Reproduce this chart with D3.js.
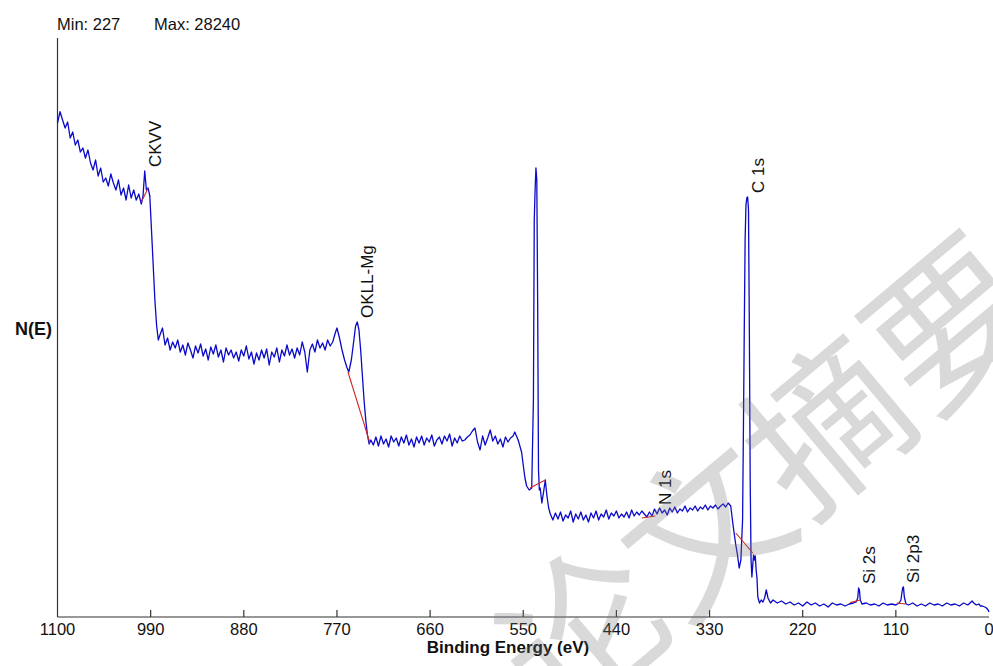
<!DOCTYPE html>
<meta charset="utf-8">
<style>
  body { margin: 0; background: #fff; }
  text { font-family: "Liberation Sans", Arial, sans-serif; fill: #111; }
</style>
<svg width="993" height="666"></svg>
<script src="https://d3js.org/d3.v7.min.js"></script>
<script>

// survey spectrum: [binding energy (eV), counts]
var spectrum = [
  [1100,27608],[1097,28240],[1094,27776],[1091,27328],[1088,27664],[1085,26768],[1082,27104],[1079,26376],
  [1076,26656],[1073,25984],[1070,26208],[1067,25648],[1064,26096],[1061,25368],[1058,24976],[1055,25536],
  [1052,24640],[1049,25088],[1046,24304],[1043,24528],[1040,24080],[1037,24752],[1034,24248],[1031,23856],
  [1028,24416],[1025,23576],[1022,23968],[1019,23296],[1016,24136],[1013,23408],[1010,23856],[1007,23296],
  [1004,23632],[1001,23072],[999,23520],[997,24920],[995,23856],[993,23968],[991,23520],[989,21616],
  [987,19656],[985,17696],[983,16296],[981,15456],
  [979,15736],[976,16128],[973,15176],[970,15568],[967,14896],[964,15344],[961,15008],[958,15456],
  [955,14784],[952,15176],[949,14616],[946,15288],[943,14896],[940,14448],[937,15120],[934,14728],
  [931,15232],[928,14560],[925,14952],[922,14336],[919,15064],[916,14672],[913,15176],[910,14504],
  [907,14896],[904,14224],[901,15008],[898,14616],[895,14896],[892,14448],[889,14784],[886,14280],
  [883,14896],[880,14560],[877,15120],[874,14392],[871,14784],[868,14112],[865,14728],[862,14336],
  [859,14896],[856,14448],[853,14952],[850,14056],[847,14784],[844,14504],[841,15008],[838,14224],
  [835,14896],[832,14560],[829,15176],[826,14616],[823,14952],[820,14448],[817,15008],[814,14616],
  [811,15344],[808,14784],[805,13664],[802,14896],[799,15232],[796,14784],[793,15456],[790,15008],
  [787,15288],[784,14896],[781,15456],[778,15120],[775,15344],[772,15848],[770,16128],[767,15568],
  [764,14896],[761,14336],[758,13888],[756,13664],[753,14336],[750,15456],[748,16240],[746,16464],
  [744,16016],[742,14896],[740,13496],[738,12096],[736,10976],[734,10136],[732,9632],[730,9856],
  [727,9576],[724,10024],[721,9520],[718,10080],[715,9632],[712,9912],[709,9464],[706,10080],
  [703,9744],[700,9968],[697,9520],[694,10024],[691,9688],[688,10136],[685,9576],[682,9912],
  [679,9464],[676,10024],[673,9688],[670,10080],[667,9576],[664,9968],[661,9744],[658,10136],
  [655,9520],[652,9856],[649,10024],[646,9632],[643,10080],[640,9800],[637,10192],[634,9520],
  [631,9968],[628,9688],[625,10080],[622,9800],[619,9856],[616,10024],[613,10136],[610,10360],
  [607,10528],[604,9744],[601,9296],[598,10080],[595,9576],[592,9968],[589,10416],[586,9800],
  [583,10080],[580,9632],[577,9912],[574,9464],[571,10024],[568,9744],[565,9968],[562,10080],
  [560,10304],[558,10080],[556,9856],[554,9520],[552,9184],[550,8456],[548,7728],[546,7280],
  [543,7056],[540,7168],[538,12096],[537,22176],[536,23856],[535,25088],[534,24416],[533,17696],
  [532,8176],[531,7056],[530,7168],[528,6328],[526,6944],[524,7616],[522,6720],[520,6048],
  [518,5712],[515,5376],[512,5768],[509,5432],[506,5824],[503,5320],[500,5656],[497,5488],
  [494,5880],[491,5264],[488,5712],[485,5432],[482,5824],[479,5376],[476,5656],[473,5264],
  [470,5768],[467,5488],[464,5880],[461,5376],[458,5712],[455,5544],[452,5936],[449,5432],
  [446,5768],[443,5600],[440,5880],[437,5488],[434,5712],[431,5544],[428,5824],[425,5488],
  [422,5936],[419,5600],[416,5824],[413,5656],[410,5880],[407,5712],[404,5544],[401,5824],
  [398,5600],[395,5992],[392,5712],[389,6048],[386,5768],[383,5936],[380,5656],[377,6048],
  [374,5824],[371,6104],[368,5768],[365,5992],[362,5880],[359,6160],[356,5824],[353,6048],
  [350,5936],[347,6160],[344,5880],[341,6104],[338,5992],[335,6216],[332,5936],[329,6160],
  [326,6048],[323,6216],[320,5992],[317,6160],[314,6272],[311,6104],[308,6328],[305,6160],
  [303,5376],[301,4648],[299,3976],[297,3416],[295,2688],[293,3136],[291,5376],[290,10416],
  [289,16016],[288,21056],[287,23016],[286,23408],[285,23464],[284,22736],[283,16016],[282,7616],
  [281,3136],[280,2184],[279,2856],[278,3416],[277,3136],[276,3360],[275,2576],[274,2128],
  [273,1064],[271,728],[269,896],[267,784],[265,1008],[263,1456],[261,1008],[258,728],
  [255,896],[250,728],[245,840],[240,672],[235,784],[230,616],[225,728],[220,560],
  [215,784],[210,616],[205,728],[200,560],[195,672],[190,504],[185,728],[180,616],
  [175,672],[170,560],[165,672],[160,728],[157,784],[155,1008],[154,1568],[153,1456],
  [152,896],[150,672],[145,728],[140,616],[135,672],[130,560],[125,728],[120,616],
  [115,672],[110,616],[106,728],[104,896],[102,1568],[101,1624],[100,1064],[98,672],
  [95,616],[90,728],[85,560],[80,672],[75,560],[70,728],[65,616],[60,672],
  [55,560],[50,728],[45,616],[40,672],[35,560],[30,728],[25,616],[20,840],
  [18,728],[15,616],[12,672],[10,560],[8,560],[5,504],[3,448],[1,336],[0,227]
];

// peak background lines: [start eV, start counts, end eV, end counts]
var backgrounds = [
  [1001, 23184, 993, 23968],
  [757, 13664, 731, 9688],
  [542, 7168, 524, 7616],
  [410, 5488, 394, 5600],
  [299, 4648, 279, 3528],
  [164, 748, 152, 896],
  [109, 728, 99, 672]
];

var peakNames = ["CKVV", "OKLL-Mg", "N 1s", "C 1s", "Si 2s", "Si 2p3"];
var peakEnergies = [997, 746, 394, 285, 154, 101];
var peakCounts = [24920, 16464, 5992, 23464, 1568, 1624];

var xTicks = [1100, 990, 880, 770, 660, 550, 440, 330, 220, 110, 0];
var countMin = 227, countMax = 28240;

var svg = d3.select("svg");

var x = d3.scaleLinear().domain([1100, 0]).range([57.5, 989]);
var y = d3.scaleLinear().domain([-56, 32368]).range([617, 38]);

// axes
svg.append("line")
    .attr("x1", x(1100)).attr("x2", x(0))
    .attr("y1", y.range()[0]).attr("y2", y.range()[0])
    .attr("stroke", "#333").attr("stroke-width", 1.2);

svg.append("line")
    .attr("x1", x(1100)).attr("x2", x(1100))
    .attr("y1", y.range()[1]).attr("y2", y.range()[0])
    .attr("stroke", "#333").attr("stroke-width", 1.2);

svg.append("g")
  .selectAll("line")
  .data(xTicks.slice(1, -1))
  .enter().append("line")
    .attr("x1", x).attr("x2", x)
    .attr("y1", y.range()[0]).attr("y2", y.range()[0] - 7)
    .attr("stroke", "#333").attr("stroke-width", 1.2);

svg.append("g")
  .selectAll("text")
  .data(xTicks)
  .enter().append("text")
    .attr("x", x)
    .attr("y", 635)
    .attr("text-anchor", "middle")
    .attr("font-size", 16.5)
    .text(function(d) { return d; });

svg.append("text")
    .attr("x", 508)
    .attr("y", 653)
    .attr("text-anchor", "middle")
    .attr("font-size", 17)
    .attr("font-weight", "bold")
    .text("Binding Energy (eV)");

svg.append("text")
    .attr("x", 52)
    .attr("y", 335)
    .attr("text-anchor", "end")
    .attr("font-size", 18)
    .attr("font-weight", "bold")
    .text("N(E)");

svg.append("text")
    .attr("x", 57).attr("y", 30)
    .attr("font-size", 16.5)
    .text("Min: " + countMin);

svg.append("text")
    .attr("x", 154).attr("y", 30)
    .attr("font-size", 16.5)
    .text("Max: " + countMax);

// spectrum
var line = d3.line()
    .x(function(d) { return x(d[0]); })
    .y(function(d) { return y(d[1]); });

svg.append("path")
    .datum(spectrum)
    .attr("fill", "none")
    .attr("stroke", "#0a0ac8")
    .attr("stroke-width", 1.3)
    .attr("stroke-linejoin", "round")
    .attr("d", line);

svg.append("g")
  .selectAll("line")
  .data(backgrounds)
  .enter().append("line")
    .attr("x1", function(d) { return x(d[0]); })
    .attr("y1", function(d) { return y(d[1]); })
    .attr("x2", function(d) { return x(d[2]); })
    .attr("y2", function(d) { return y(d[3]); })
    .attr("stroke", "#d02828")
    .attr("stroke-width", 1.1);

// peak labels, rotated
svg.append("g")
  .selectAll("text")
  .data(peakNames)
  .enter().append("text")
    .attr("transform", function(d, i) {
      return "translate(" + (x(peakEnergies[i]) + 16) + "," + (y(peakCounts[i]) - 4) + ")rotate(-90)";
    })
    .attr("font-size", 17)
    .text(function(d) { return d; });

// watermark
svg.append("text")
    .attr("transform", "translate(760,470)rotate(-40)")
    .attr("text-anchor", "middle")
    .attr("dominant-baseline", "central")
    .style("font-family", "'Noto Sans CJK SC', sans-serif")
    .style("font-size", "160px")
    .style("fill", "#777")
    .style("fill-opacity", 0.28)
    .text("论文摘要");

</script>
